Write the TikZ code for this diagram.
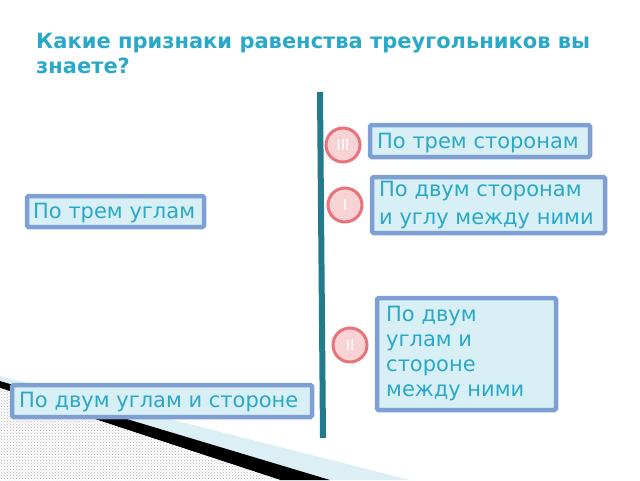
\documentclass[tikz,border=0pt]{standalone}
\usepackage{fontspec}
\setmainfont{DejaVu Sans}
\usetikzlibrary{patterns}
\definecolor{tt}{HTML}{2AA8C8}
\definecolor{bxf}{HTML}{D8EFF6}
\definecolor{bxd}{HTML}{7E9FD4}
\definecolor{crf}{HTML}{F8D3D6}
\definecolor{crd}{HTML}{E8737A}
\definecolor{ln}{HTML}{237A8A}
\definecolor{lb}{HTML}{DCEFF5}
\begin{document}
\begin{tikzpicture}[x=1pt,y=-1pt,
  box/.style={draw=bxd,fill=bxf,line width=4.5pt,rounded corners=1.5pt},
  txt/.style={text=tt,font=\fontsize{21}{28}\selectfont,anchor=west,inner sep=0pt,align=left},
  num/.style={circle,draw=crd,fill=crf,line width=3pt,minimum size=34pt,inner sep=0pt,text=white,font=\fontsize{15}{16}\selectfont}]
\useasboundingbox (0,0) rectangle (640,480);
% decoration
\fill[lb] (0,376) -- (410,480) -- (0,480) -- cycle;
\fill[black] (0,381) -- (330,480) -- (280,480) -- (0,388) -- cycle;
\fill[white] (0,388) -- (280,480) -- (0,480) -- cycle;
\fill[pattern=crosshatch dots, pattern color=gray!60] (0,388) -- (280,480) -- (0,480) -- cycle;
% title
\node[anchor=north west,text=tt,font=\bfseries\fontsize{21}{25}\selectfont,align=left,inner sep=0pt] (title) at (36,33) {Какие признаки равенства треугольников вы\\знаете?};
% line
\draw[ln,line width=6pt] (320,92) coordinate (lt) -- (323,438) coordinate (lb);
% boxes
\path[box] (370,125) rectangle (590,157);
\node[txt] (b1) at (377,143) {По трем сторонам};
\path[box] (372,177) rectangle (605,233);
\node[txt] (b2) at (379,205) {По двум сторонам\\и углу между ними};
\path[box] (27,196) rectangle (204,227);
\node[txt] (b3) at (33,213) {По трем углам};
\path[box] (377,298) rectangle (556,410);
\node[txt,font=\fontsize{21}{25}\selectfont] (b4) at (386,354) {По двум\\углам и\\стороне\\между ними};
\path[box] (12,385) rectangle (312,417);
\node[txt] (b5) at (19,402) {По двум углам и стороне};
% numbers
\node[num] (n3) at (343,145) {III};
\node[num] (n1) at (345,205) {I};
\node[num] (n2) at (350,345) {II};
\end{tikzpicture}
\end{document}
